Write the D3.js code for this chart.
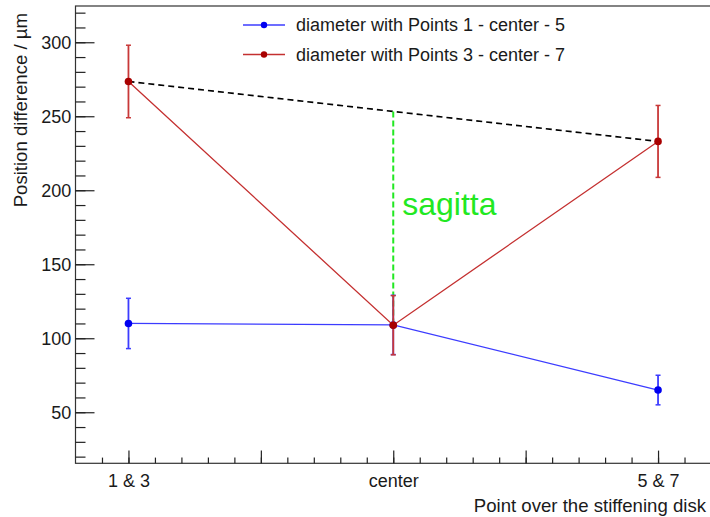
<!DOCTYPE html>
<html>
<head>
<meta charset="utf-8">
<script src="https://cdn.jsdelivr.net/npm/d3@7"></script>
<style>
  body { margin: 0; background: #fff; }
  text { font-family: "Liberation Sans", Arial, sans-serif; fill: #1a1a1a; }
</style>
</head>
<body>
<svg width="710" height="517"></svg>
<script>
// data
const pointLabels = ["1 & 3", "center", "5 & 7"];
const pointX = [1, 2, 3];
const bluePos = [110, 109, 65];
const blueErr = [17, 20, 10];
const redPos = [273.5, 108.8, 233];
const redErr = [24.5, 20, 24.3];
const seriesNames = ["diameter with Points 1 - center - 5", "diameter with Points 3 - center - 7"];
const yMajorTicks = [50, 100, 150, 200, 250, 300];
const xMajorTicks = [1, 1.5, 2, 2.5, 3];

const svg = d3.select("svg"),
      fLeft = 75.5, fRight = 711, fTop = 6, fBottom = 463.3;

const x = d3.scaleLinear().domain([0.8, 3.2]).range([fLeft, fRight]);
const y = d3.scaleLinear().domain([15.5, 324.5]).range([fBottom, fTop]);

// frame
svg.append("rect")
  .attr("x", fLeft).attr("y", fTop)
  .attr("width", fRight - fLeft).attr("height", fBottom - fTop)
  .attr("fill", "none").attr("stroke", "#333").attr("stroke-width", 1.2);

// x ticks (pointing inward)
const xMinor = d3.range(9, 32).map(d => d / 10);
svg.append("g")
  .attr("transform", `translate(0,${fBottom})`)
  .call(d3.axisBottom(x).tickValues(xMinor).tickSize(-5.7).tickFormat(""));
svg.append("g")
  .attr("transform", `translate(0,${fBottom})`)
  .call(d3.axisBottom(x).tickValues(xMajorTicks).tickSize(-12.7).tickFormat(""));
svg.append("g")
  .attr("class", "xlab")
  .attr("transform", `translate(0,${fBottom})`)
  .call(d3.axisBottom(x).tickValues(pointX).tickSize(0).tickPadding(10.6)
    .tickFormat((d, i) => pointLabels[i]));

// y ticks
const yMinor = d3.range(20, 330, 10);
svg.append("g")
  .attr("transform", `translate(${fLeft},0)`)
  .call(d3.axisLeft(y).tickValues(yMinor).tickSize(-10).tickFormat(""));
svg.append("g")
  .attr("transform", `translate(${fLeft},0)`)
  .call(d3.axisLeft(y).tickValues(yMajorTicks).tickSize(-19).tickFormat(""));
svg.append("g")
  .attr("class", "ylab")
  .attr("transform", `translate(${fLeft},0)`)
  .call(d3.axisLeft(y).tickValues(yMajorTicks).tickSize(0).tickPadding(4.3));

svg.selectAll(".domain").remove();
svg.selectAll(".tick line").attr("stroke", "#222").attr("stroke-width", 1.2);
svg.selectAll(".xlab text, .ylab text")
  .attr("font-size", 18)
  .attr("font-family", "Liberation Sans, Arial, sans-serif")
  .attr("fill", "#1a1a1a");

// axis titles
svg.append("text")
  .attr("x", 706).attr("y", 511.5)
  .attr("text-anchor", "end")
  .attr("font-size", 18.6)
  .text("Point over the stiffening disk");
svg.append("text")
  .attr("transform", "translate(27,13) rotate(-90)")
  .attr("text-anchor", "end")
  .attr("font-size", 18.6)
  .text("Position difference / µm");

// dashed chord and sagitta
const chordMid = (redPos[0] + redPos[2]) / 2;
svg.append("line")
  .attr("x1", x(pointX[0])).attr("y1", y(redPos[0]))
  .attr("x2", x(pointX[2])).attr("y2", y(redPos[2]))
  .attr("stroke", "#000").attr("stroke-width", 1.6)
  .attr("stroke-dasharray", "6,4");
svg.append("line")
  .attr("x1", x(pointX[1])).attr("y1", y(chordMid))
  .attr("x2", x(pointX[1])).attr("y2", y(redPos[1]))
  .attr("stroke", "#22e822").attr("stroke-width", 2)
  .attr("stroke-dasharray", "6,3");
svg.append("text")
  .attr("x", x(pointX[1]) + 9).attr("y", 215)
  .attr("font-size", 32)
  .style("fill", "#22e822")
  .text("sagitta");

// series
const series = [
  {vals: bluePos, errs: blueErr, line: "#3c3cff", err: "#3c3cff", mark: "#0000f0"},
  {vals: redPos, errs: redErr, line: "#c43030", err: "#c83838", mark: "#a80000"}
];
const line = d3.line().x(d => x(d[0])).y(d => y(d[1]));

series.forEach(s => {
  const pts = pointX.map((px, i) => [px, s.vals[i], s.errs[i]]);
  const g = svg.append("g");
  g.append("path")
    .attr("d", line(pts))
    .attr("fill", "none").attr("stroke", s.line).attr("stroke-width", 1.3);
  const eb = g.selectAll(".eb").data(pts).enter().append("g");
  eb.append("line")
    .attr("x1", d => x(d[0])).attr("x2", d => x(d[0]))
    .attr("y1", d => y(d[1] + d[2])).attr("y2", d => y(d[1] - d[2]))
    .attr("stroke", s.err).attr("stroke-width", 1.8);
  eb.selectAll(".cap").data(d => [[d[0], d[1] + d[2]], [d[0], d[1] - d[2]]])
    .enter().append("line")
    .attr("x1", d => x(d[0]) - 2.5).attr("x2", d => x(d[0]) + 2.5)
    .attr("y1", d => y(d[1])).attr("y2", d => y(d[1]))
    .attr("stroke", s.err).attr("stroke-width", 1.5);
  g.selectAll("circle").data(pts).enter().append("circle")
    .attr("cx", d => x(d[0])).attr("cy", d => y(d[1]))
    .attr("r", 3.8).attr("fill", s.mark);
});

// legend
const legend = svg.append("g");
series.forEach((s, i) => {
  const ly = 25 + i * 29.5;
  legend.append("line")
    .attr("x1", 243).attr("x2", 285).attr("y1", ly).attr("y2", ly)
    .attr("stroke", s.line).attr("stroke-width", 1.3);
  legend.append("circle")
    .attr("cx", 264).attr("cy", ly).attr("r", 3.2).attr("fill", s.mark);
  legend.append("text")
    .attr("x", 296).attr("y", ly).attr("dy", "0.35em")
    .attr("font-size", 18)
    .text(seriesNames[i]);
});
</script>
</body>
</html>
